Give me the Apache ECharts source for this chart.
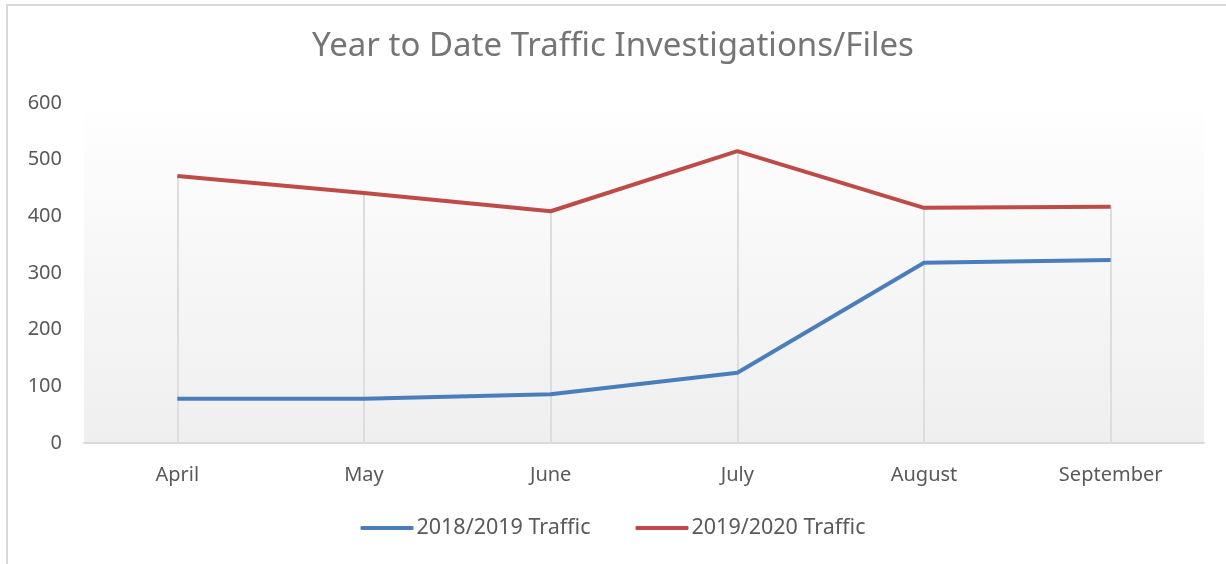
<!DOCTYPE html>
<html>
<head>
    <meta charset="utf-8">
    <title>Year to Date Traffic Investigations/Files</title>
    <script src="https://cdn.jsdelivr.net/npm/echarts@6/dist/echarts.min.js"></script>
    <style>
        body { margin: 0; background: #fff; }
        #frame { position: absolute; left: 6px; top: 4px; width: 1240px; height: 580px; border: 2px solid #d9d9d9; }
        #chart1 { position: absolute; left: 0; top: 0; width: 1226px; height: 564px; }
    </style>
</head>
<body>
<div id="frame"></div>
<div id="chart1"></div>
<script type="text/javascript">
    // 数据
    var months = ['April', 'May', 'June', 'July', 'August', 'September'];
    var traffic1819 = [78, 78, 86, 124, 318, 323];
    var traffic1920 = [471, 441, 409, 515, 415, 417];
    var yTicks = [0, 100, 200, 300, 400, 500, 600];

    var font = '"Noto Sans", sans-serif';

    // 每个月份的竖线，从较高的点画到横轴
    var dropLines = months.map(function (m, i) {
        var top = Math.max(traffic1819[i], traffic1920[i]);
        return [{ coord: [m, top] }, { coord: [m, 0] }];
    });

    var myChart1 = echarts.init(document.getElementById('chart1'));
    myChart1.setOption({
        animation: false,
        title: {
            text: 'Year to Date Traffic Investigations/Files',
            left: 'center',
            top: 25,
            textStyle: { color: '#757575', fontSize: 33, fontWeight: 'normal', fontFamily: font }
        },
        legend: {
            data: ['2018/2019 Traffic', '2019/2020 Traffic'],
            bottom: 20,
            left: 'center',
            itemWidth: 53,
            itemHeight: 4,
            itemGap: 45,
            icon: 'roundRect',
            textStyle: { color: '#595959', fontSize: 21.5, fontFamily: font, padding: [0, 0, 0, -2] }
        },
        grid: {
            left: 84, right: 22, top: 103, bottom: 121,
            show: true,
            borderWidth: 0,
            backgroundColor: new echarts.graphic.LinearGradient(0, 0, 0, 1, [
                { offset: 0, color: '#ffffff' },
                { offset: 0.15, color: '#fcfcfc' },
                { offset: 1, color: '#efefef' }
            ])
        },
        xAxis: {
            type: 'category',
            data: months,
            boundaryGap: true,
            axisLine: { lineStyle: { color: '#d9d9d9', width: 2 } },
            axisTick: { show: false },
            axisLabel: { color: '#595959', fontSize: 20, fontFamily: font, margin: 22 }
        },
        yAxis: {
            type: 'value',
            min: yTicks[0],
            max: yTicks[yTicks.length - 1],
            interval: 100,
            splitLine: { show: false },
            axisLine: { show: false },
            axisTick: { show: false },
            axisLabel: { color: '#595959', fontSize: 20, fontFamily: font, margin: 22 }
        },
        series: [{
            name: '2018/2019 Traffic',
            type: 'line',
            data: traffic1819,
            symbol: 'none',
            color: '#4a7ebb',
            lineStyle: { width: 4, color: '#4a7ebb' },
            z: 3
        }, {
            name: '2019/2020 Traffic',
            type: 'line',
            data: traffic1920,
            symbol: 'none',
            color: '#be4b48',
            lineStyle: { width: 4, color: '#be4b48' },
            z: 3,
            markLine: {
                silent: true,
                symbol: 'none',
                label: { show: false },
                lineStyle: { color: '#dddddd', width: 2, type: 'solid' },
                data: dropLines,
                z: 1
            }
        }]
    });
</script>
</body>
</html>
